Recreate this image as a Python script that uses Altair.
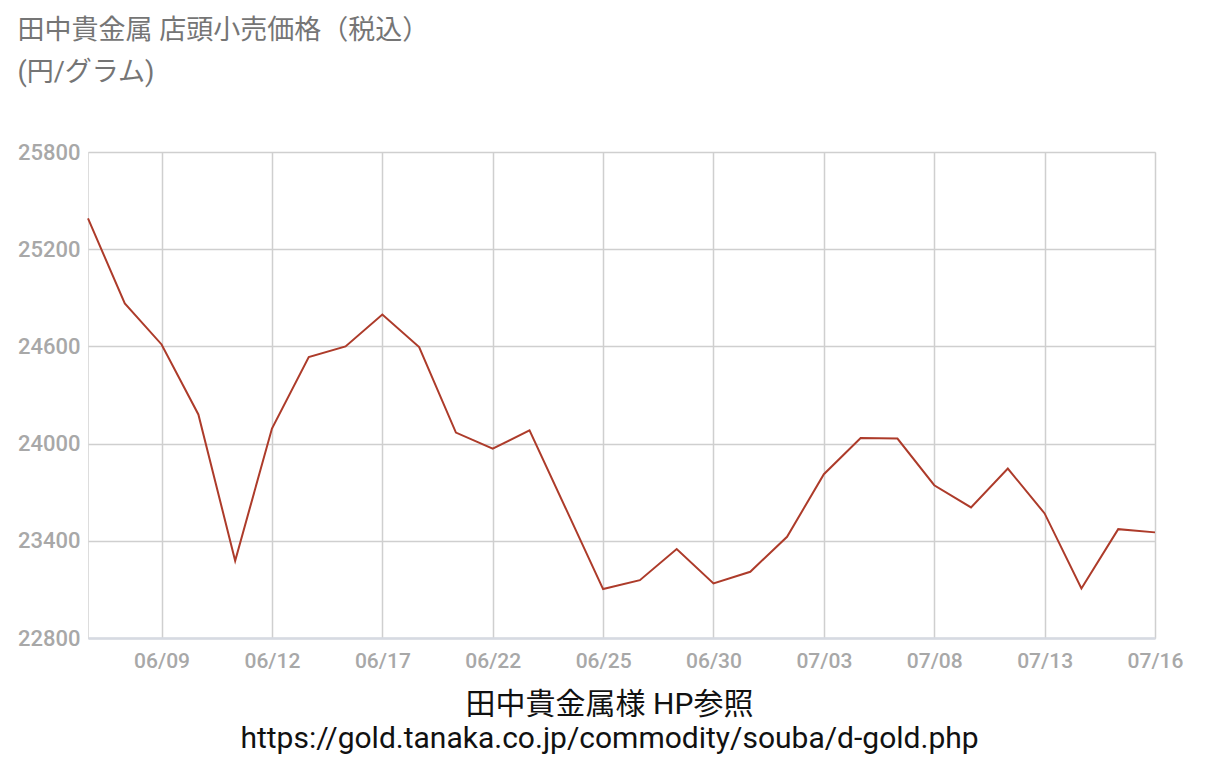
import altair as alt
import pandas as pd

dates = ["06/05", "06/08", "06/09", "06/10", "06/11", "06/12", "06/15", "06/16",
         "06/17", "06/18", "06/19", "06/22", "06/23", "06/24", "06/25", "06/26",
         "06/29", "06/30", "07/01", "07/02", "07/03", "07/06", "07/07", "07/08",
         "07/09", "07/10", "07/13", "07/14", "07/15", "07/16"]
prices = [25390, 24865, 24612, 24180, 23277, 24093, 24534, 24600, 24797, 24596,
          24068, 23969, 24082, 23592, 23102, 23157, 23349, 23137, 23209, 23425,
          23811, 24035, 24031, 23743, 23606, 23846, 23569, 23106, 23472, 23452]
x_labels = ["06/09", "06/12", "06/17", "06/22", "06/25", "06/30", "07/03",
            "07/08", "07/13", "07/16"]
y_ticks = [22800, 23400, 24000, 24600, 25200, 25800]
title_lines = ["田中貴金属 店頭小売価格（税込）", "(円/グラム)"]
caption_lines = ["田中貴金属様 HP参照",
                 "https://gold.tanaka.co.jp/commodity/souba/d-gold.php"]

df = pd.DataFrame({"date": dates, "price": prices})

FONT = "Roboto, 'Noto Sans CJK JP', sans-serif"

chart = alt.Chart(df).mark_line(color="#ad3b2a", strokeWidth=2).encode(
    x=alt.X("date:O", sort=None,
            scale=alt.Scale(type="point", padding=0),
            axis=alt.Axis(values=x_labels, labelAngle=0, labelColor="#a8a8a8",
                          labelFontSize=21, labelFontWeight=500, labelFont=FONT,
                          labelPadding=12, ticks=False, grid=True,
                          domainColor="#d6dae2", domainWidth=2.5,
                          gridColor="#cfcfcf", gridWidth=1.5,
                          title=caption_lines, titleFont=FONT, titleFontSize=30,
                          titleFontWeight="normal", titleColor="#111111",
                          titlePadding=18, titleLineHeight=34, titleX=521)),
    y=alt.Y("price:Q",
            scale=alt.Scale(domain=[22800, 25800], nice=False, zero=False),
            axis=alt.Axis(values=y_ticks, format="d", labelColor="#a8a8a8",
                          labelFontSize=22, labelFontWeight=500, labelFont=FONT,
                          labelPadding=8, ticks=False, domain=False,
                          gridColor="#cfcfcf", gridWidth=1.5, title=None)),
).properties(
    width=1067,
    height=486,
    padding={"left": 80, "top": 144, "right": 57, "bottom": 121},
    autosize=alt.AutoSizeParams(type="none"),
    title=alt.TitleParams(text=title_lines, anchor="start", frame="bounds",
                          font=FONT, fontSize=27, fontWeight="normal",
                          color="#757575", lineHeight=42, offset=54),
).configure_view(
    fill="#fdfdf0", stroke="#cfcfcf", strokeWidth=1.5
).configure(background="white")

chart.save("out.html", embed_options={"renderer": "svg", "actions": False})
